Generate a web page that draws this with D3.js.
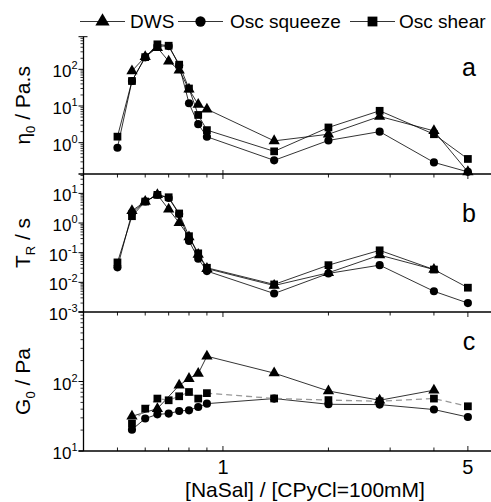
<!DOCTYPE html>
<html>
<head>
<meta charset="utf-8">
<script src="https://cdnjs.cloudflare.com/ajax/libs/d3/7.8.5/d3.min.js"></script>
<style>
  body { margin: 0; background: #fff; }
  text { font-family: "Liberation Sans", Arial, sans-serif; fill: #000; }
</style>
</head>
<body>
<script>
// NaSal / CPyCl ratio (shared x values)
var ratio = [0.5, 0.55, 0.6, 0.65, 0.7, 0.75, 0.8, 0.85, 0.9, 1.4, 2.0, 2.8, 4.0, 5.0];

// panel a : zero shear viscosity (Pa.s)
var etaDws     = [null, 90, 220, 390, 166, 95, 28.5, 11, 8.2, 1.12, 1.7, 5.2, 2.1, 0.16];
var etaSqueeze = [0.73, 48, 212, 430, 430, 130, 11.9, 3.2, 1.45, 0.33, 1.15, 2.0, 0.29, 0.16];
var etaShear   = [1.46, 48, 215, 480, 440, 134, 30, 5.7, 2.2, 0.58, 2.6, 7.4, 1.7, 0.36];

// panel b : relaxation time (s)
var trDws     = [null, 2.6, 5.3, 9.0, 2.9, 1.02, 0.34, 0.087, 0.029, 0.0078, 0.021, 0.083, 0.027, null];
var trSqueeze = [0.032, 2.2, 5.3, 9.0, 7.0, 2.0, 0.25, 0.063, 0.024, 0.0042, 0.02, 0.038, 0.005, 0.002];
var trShear   = [0.047, 1.7, 5.3, 8.9, 7.4, 2.1, 0.36, 0.095, 0.031, 0.0085, 0.038, 0.12, 0.027, 0.0066];

// panel c : plateau modulus (Pa)
var g0Dws     = [null, 31.6, null, 40.7, null, 88, 110, 130, 231, 132, 73, 53.7, 75, null];
var g0Squeeze = [null, 20.3, 29.3, 33.7, 34.5, 37.7, 38.5, 43, 48, 56.8, 47, 46.5, 39.5, 30.8];
var g0Shear   = [null, 24.8, 40.7, 56.8, 53.7, 61.3, 70.6, 56.8, 68, 57, 54, 52, 56.8, 44];

var seriesNames = ["DWS", "Osc squeeze", "Osc shear"];
var xTicks = [1, 5];

let w = 491;
let h = 502;
let left = 83.5;

let svg = d3.select("body")
            .append("svg")
            .attr("width", w)
            .attr("height", h);

let x = d3.scaleLog().domain([0.4, 5.82]).range([left, w]);

let panels = [
  { id: "a", top: 36.7, bottom: 174, domain: [0.14, 775], exps: [0, 1, 2],
    data: [etaDws, etaSqueeze, etaShear], title: ["\u03b7", "0", " / Pa.s"], letterY: 76 },
  { id: "b", top: 174, bottom: 312, domain: [0.001, 45], exps: [-3, -2, -1, 0, 1],
    data: [trDws, trSqueeze, trShear], title: ["T", "R", " / s"], letterY: 222 },
  { id: "c", top: 312, bottom: 451, domain: [10, 1000], exps: [1, 2],
    data: [g0Dws, g0Squeeze, g0Shear], title: ["G", "0", " / Pa"], letterY: 350 }
];

let symbols = [d3.symbolTriangle, d3.symbolCircle, d3.symbolSquare];
let symSize = [55, 52, 60];

// x minor ticks
let xMinor = [];
[0.1, 1].forEach(function(dec) {
  for (let k = 1; k <= 9; k++) {
    let v = dec * k;
    if (v > 0.4 && v < 5.8) xMinor.push(v);
  }
});

panels.forEach(function(p, pi) {
  let y = d3.scaleLog().domain(p.domain).range([p.bottom, p.top]);
  let g = svg.append("g");

  // y minor ticks
  let yMinor = [];
  let lo = Math.floor(Math.log10(p.domain[0])), hi = Math.ceil(Math.log10(p.domain[1]));
  for (let e = lo; e <= hi; e++) {
    for (let k = 2; k <= 9; k++) {
      let v = k * Math.pow(10, e);
      if (v >= p.domain[0] && v <= p.domain[1]) yMinor.push(v);
    }
  }
  g.selectAll(".ymin")
   .data(yMinor)
   .enter()
   .append("line")
   .attr("x1", left - 3).attr("x2", left)
   .attr("y1", function(d) { return y(d); })
   .attr("y2", function(d) { return y(d); })
   .attr("stroke", "#000").attr("stroke-width", 0.8);

  // y major ticks + labels
  g.selectAll(".ymaj")
   .data(p.exps)
   .enter()
   .append("line")
   .attr("x1", left - 5).attr("x2", left)
   .attr("y1", function(d) { return y(Math.pow(10, d)); })
   .attr("y2", function(d) { return y(Math.pow(10, d)); })
   .attr("stroke", "#000").attr("stroke-width", 1);

  let lab = g.selectAll(".ylab")
   .data(p.exps)
   .enter()
   .append("text")
   .attr("x", left - 6)
   .attr("y", function(d) { return y(Math.pow(10, d)) + 8; })
   .attr("text-anchor", "end")
   .attr("font-size", "17px");
  lab.append("tspan").text("10");
  lab.append("tspan")
     .attr("dy", -8)
     .attr("font-size", "11px")
     .text(function(d) { return d; });

  // x ticks at the top of panels b and c (pointing down) and bottom of c (pointing up)
  if (pi > 0) {
    g.selectAll(".xtop")
     .data(xMinor)
     .enter()
     .append("line")
     .attr("x1", function(d) { return x(d); })
     .attr("x2", function(d) { return x(d); })
     .attr("y1", p.top)
     .attr("y2", function(d) { return p.top + (xTicks.indexOf(d) >= 0 ? 5 : 3.5); })
     .attr("stroke", "#000").attr("stroke-width", 0.9);
  }
  if (pi == 0) {
    g.append("line")
     .attr("x1", x(1)).attr("x2", x(1))
     .attr("y1", p.bottom).attr("y2", p.bottom - 4)
     .attr("stroke", "#000").attr("stroke-width", 0.9);
  }
  if (pi == 2) {
    g.selectAll(".xbot")
     .data(xMinor)
     .enter()
     .append("line")
     .attr("x1", function(d) { return x(d); })
     .attr("x2", function(d) { return x(d); })
     .attr("y1", p.bottom)
     .attr("y2", function(d) { return p.bottom - (xTicks.indexOf(d) >= 0 ? 5 : 3.5); })
     .attr("stroke", "#000").attr("stroke-width", 0.9);
  }

  // bottom frame line
  g.append("line")
   .attr("x1", left - 5).attr("x2", w)
   .attr("y1", p.bottom).attr("y2", p.bottom)
   .attr("stroke", "#000").attr("stroke-width", 1.5);

  // y title
  let t = g.append("text")
           .attr("transform", "translate(30," + ((p.top + p.bottom) / 2) + ") rotate(-90)")
           .attr("text-anchor", "middle")
           .attr("font-size", "21px");
  t.append("tspan").text(p.title[0]);
  t.append("tspan").attr("dy", 5).attr("font-size", "13px").text(p.title[1]);
  t.append("tspan").attr("dy", -5).text(p.title[2]);

  // panel letter
  g.append("text")
   .attr("x", 469).attr("y", p.letterY)
   .attr("text-anchor", "middle")
   .attr("font-size", "25px")
   .text(p.id);

  // series
  p.data.forEach(function(vals, si) {
    let pts = ratio.map(function(r, i) { return [r, vals[i]]; })
                   .filter(function(d) { return d[1] != null; });
    let line = d3.line()
                 .x(function(d) { return x(d[0]); })
                 .y(function(d) { return y(d[1]); });
    let dashed = (pi == 2 && si == 2);
    g.append("path")
     .attr("d", line(pts))
     .attr("fill", "none")
     .attr("stroke", dashed ? "#999" : "#000")
     .attr("stroke-width", dashed ? 1.3 : 0.8)
     .attr("stroke-dasharray", dashed ? "6,4" : null);
    g.selectAll(".m" + si)
     .data(pts)
     .enter()
     .append("path")
     .attr("transform", function(d) { return "translate(" + x(d[0]) + "," + y(d[1]) + ")"; })
     .attr("d", d3.symbol().type(symbols[si]).size(symSize[si])())
     .attr("fill", "#000");
  });
});

// y axis line
svg.append("line")
   .attr("x1", left).attr("x2", left)
   .attr("y1", 36.7).attr("y2", 451)
   .attr("stroke", "#000").attr("stroke-width", 1.3);
svg.append("line")
   .attr("x1", left - 5).attr("x2", left + 4)
   .attr("y1", 36.7).attr("y2", 36.7)
   .attr("stroke", "#000").attr("stroke-width", 1);

// x tick labels
svg.selectAll(".xlab")
   .data(xTicks)
   .enter()
   .append("text")
   .attr("x", function(d) { return x(d); })
   .attr("y", 474)
   .attr("text-anchor", "middle")
   .attr("font-size", "20px")
   .text(function(d) { return d; });

svg.append("text")
   .attr("x", 305).attr("y", 497)
   .attr("text-anchor", "middle")
   .attr("font-size", "21px")
   .text("[NaSal] / [CPyCl=100mM]");

// legend
let legX = [80, 178, 350];
let textX = [130, 230, 399];
seriesNames.forEach(function(name, i) {
  let lg = svg.append("g");
  lg.append("line")
    .attr("x1", legX[i]).attr("x2", legX[i] + 45)
    .attr("y1", 21.5).attr("y2", 21.5)
    .attr("stroke", "#000").attr("stroke-width", 0.8);
  lg.append("path")
    .attr("transform", "translate(" + (legX[i] + 22.5) + ",21.5)")
    .attr("d", d3.symbol().type(symbols[i]).size(symSize[i] * 1.6)())
    .attr("fill", "#000");
  lg.append("text")
    .attr("x", textX[i]).attr("y", 28)
    .attr("font-size", "19px")
    .text(name);
});
</script>
</body>
</html>
